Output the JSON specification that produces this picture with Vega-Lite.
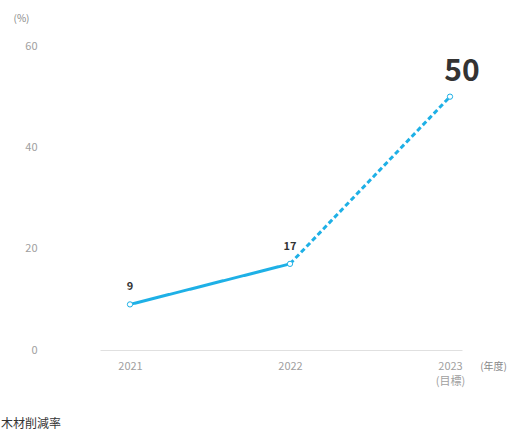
{
  "$schema": "https://vega.github.io/schema/vega-lite/v6.json",
  "width": 362,
  "height": 304,
  "autosize": "none",
  "padding": {"left": 100, "top": 46, "right": 55, "bottom": 84},
  "background": "white",
  "config": {"view": {"stroke": null}, "font": "Noto Sans CJK JP"},
  "title": {
    "text": "木材削減率",
    "orient": "bottom",
    "anchor": "start",
    "align": "left",
    "frame": "group",
    "dx": -99,
    "offset": 33,
    "fontSize": 12,
    "fontWeight": "normal",
    "color": "#333333",
    "font": "Noto Sans CJK JP",
    "baseline": "top"
  },
  "datasets": {
    "lines": [
      {"year": 2021, "value": 9, "seg": "実績"},
      {"year": 2022, "value": 17, "seg": "実績"},
      {"year": 2022, "value": 17, "seg": "目標"},
      {"year": 2023, "value": 50, "seg": "目標"}
    ],
    "points": [
      {"year": 2021, "value": 9},
      {"year": 2022, "value": 17},
      {"year": 2023, "value": 50}
    ]
  },
  "encoding": {
    "x": {
      "field": "year",
      "type": "quantitative",
      "scale": {"domain": [2020.8125, 2023.075], "nice": false, "zero": false},
      "axis": {
        "values": [2021, 2022, 2023],
        "format": "d",
        "labelExpr": "datum.value == 2023 ? ['2023', '(目標)'] : datum.label",
        "grid": false,
        "ticks": false,
        "domainColor": "#e0e0e0",
        "domainWidth": 1,
        "labelColor": "#a0a0a0",
        "labelFontSize": 11,
        "labelPadding": 10,
        "labelLineHeight": 15,
        "labelBaseline": "top",
        "labelOverlap": false,
        "title": "(年度)",
        "titleAngle": 0,
        "titleX": 393,
        "titleY": 16,
        "titleAlign": "center",
        "titleBaseline": "middle",
        "titleFontSize": 10,
        "titleFontWeight": "normal",
        "titleColor": "#888888"
      }
    },
    "y": {
      "field": "value",
      "type": "quantitative",
      "scale": {"domain": [0, 60], "nice": false},
      "axis": {
        "values": [0, 20, 40, 60],
        "grid": false,
        "ticks": false,
        "domain": false,
        "labelColor": "#a0a0a0",
        "labelFontSize": 11,
        "labelPadding": 63,
        "title": "(%)",
        "titleAngle": 0,
        "titleX": -79,
        "titleY": -28,
        "titleAlign": "center",
        "titleBaseline": "middle",
        "titleFontSize": 10,
        "titleFontWeight": "normal",
        "titleColor": "#888888"
      }
    }
  },
  "layer": [
    {
      "data": {"name": "lines"},
      "mark": {"type": "line", "color": "#1eb0e6", "strokeWidth": 3},
      "encoding": {
        "detail": {"field": "seg"},
        "strokeDash": {
          "field": "seg",
          "type": "nominal",
          "scale": {"domain": ["実績", "目標"], "range": [[1, 0], [5, 3]]},
          "legend": null
        }
      }
    },
    {
      "data": {"name": "points"},
      "mark": {"type": "point", "shape": "circle", "filled": true, "fill": "white", "stroke": "#1eb0e6", "strokeWidth": 1, "size": 28, "opacity": 1}
    },
    {
      "data": {"name": "points"},
      "transform": [{"filter": "datum.year < 2023"}],
      "mark": {"type": "text", "dy": -17, "fontSize": 11, "fontWeight": "bold", "color": "#333333"},
      "encoding": {"text": {"field": "value", "type": "quantitative"}}
    },
    {
      "data": {"name": "points"},
      "transform": [{"filter": "datum.year == 2023"}],
      "mark": {"type": "text", "dx": 12, "dy": -25, "fontSize": 30, "fontWeight": "bold", "color": "#333333"},
      "encoding": {"text": {"field": "value", "type": "quantitative"}}
    }
  ]
}
